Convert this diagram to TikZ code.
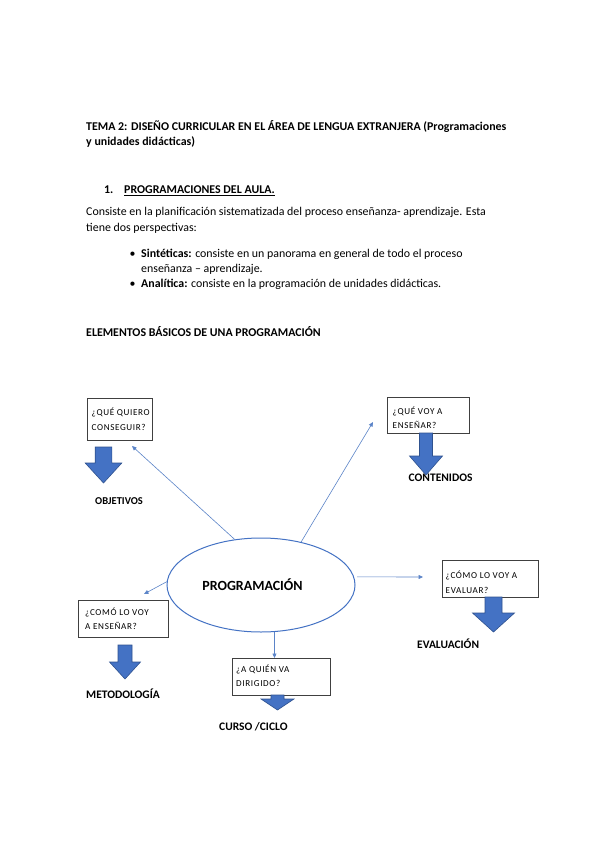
\documentclass[tikz,border=0pt]{standalone}
\usepackage{fontspec}
\setmainfont{Carlito}
\newfontfamily\boxfont[LetterSpace=7]{Carlito}
\usetikzlibrary{arrows.meta,shapes.geometric}
\definecolor{accblue}{HTML}{4472C4}
\definecolor{accdark}{HTML}{2F528F}
\definecolor{connblue}{HTML}{5B84C8}
\begin{document}
\begin{tikzpicture}[x=1pt,y=-1pt,
  txt/.style={anchor=base west, inner sep=0pt, font=\fontsize{11.9}{14}\selectfont},
  btxt/.style={txt, font=\fontsize{11.9}{14}\selectfont\bfseries},
  lbl/.style={anchor=base west, inner sep=0pt, font=\fontsize{11.5}{13}\selectfont\bfseries},
  qbox/.style={draw=black!75, line width=0.8pt, fill=white, anchor=north west, inner sep=0pt},
  qtxt/.style={anchor=base west, inner sep=0pt, align=left, font=\fontsize{9.1}{14.5}\boxfont},
  barrow/.style={fill=accblue, draw=accdark, line width=0.6pt},
  conn/.style={draw=connblue, line width=0.6pt, -{Triangle[length=4.5pt,width=4pt]}},
  pics/blockdown/.style args={#1/#2/#3/#4}{code={
    \draw[barrow] (-#1,0) -- (#1,0) -- (#1,#3) -- (#2,#3) -- (0,#4) -- (-#2,#3) -- (-#1,#3) -- cycle;}}
]
\useasboundingbox (0,0) rectangle (599,848);
\fill[white] (0,0) rectangle (599,848);

% header text
\node[btxt] (title1) at (86,130.3) {TEMA 2: DISEÑO CURRICULAR EN EL ÁREA DE LENGUA EXTRANJERA (Programaciones};
\node[btxt] (title2) at (86,145.8) {y unidades didácticas)};
\node[btxt] (h1num) at (104,193.3) {1.};
\node[btxt] (h1) at (124,193.3) {\underline{PROGRAMACIONES DEL AULA.}};
\node[txt] (p1) at (86,215) {Consiste en la planificación sistematizada del proceso enseñanza- aprendizaje. Esta};
\node[txt] (p2) at (86,231) {tiene dos perspectivas:};
\node[txt] (bul1) at (129.5,257.3) {•};
\node[txt] (l1) at (141,257.3) {\textbf{Sintéticas:} consiste en un panorama en general de todo el proceso};
\node[txt] (l2) at (141,272) {enseñanza – aprendizaje.};
\node[txt] (bul2) at (129.5,287.5) {•};
\node[txt] (l3) at (141,287.5) {\textbf{Analítica:} consiste en la programación de unidades didácticas.};
\node[btxt] (h2) at (86,336.7) {ELEMENTOS BÁSICOS DE UNA PROGRAMACIÓN};

% central ellipse
\node[ellipse, draw=accblue, line width=1pt, fill=white, minimum width=188pt, minimum height=94pt, inner sep=0pt] (ell) at (261,585) {};
\node[inner sep=0pt, font=\fontsize{14}{16}\selectfont\bfseries] (prog) at (252.5,585) {PROGRAMACIÓN};

% boxes (text anchored at the baseline of its last line)
\node[qbox, minimum width=65pt, minimum height=42pt] (b1) at (87,398) {};
\node[qtxt] (q1) at (91.5,430) {¿QUÉ QUIERO\\CONSEGUIR?};
\node[qbox, minimum width=82pt, minimum height=36pt] (b2) at (387,397) {};
\node[qtxt] (q2) at (392.5,428.5) {¿QUÉ VOY A\\ENSEÑAR?};
\node[qbox, minimum width=90pt, minimum height=37pt] (b3) at (78,600) {};
\node[qtxt] (q3) at (85,629.5) {¿COMÓ LO VOY\\A ENSEÑAR?};
\node[qbox, minimum width=98pt, minimum height=37pt] (b4) at (232,658) {};
\node[qtxt] (q4) at (236,686.7) {¿A QUIÉN VA\\DIRIGIDO?};
\node[qbox, minimum width=96pt, minimum height=37pt] (b5) at (442,560) {};
\node[qtxt] (q5) at (445.5,593.3) {¿CÓMO LO VOY A\\EVALUAR?};

% block arrows
\pic (a1) at (103.5,447) {blockdown=8.3/18.3/16/36};
\pic (a2) at (426,433) {blockdown=6.5/16.5/23/42};
\pic (a3) at (125,645) {blockdown=7/15.5/17/34};
\pic (a4) at (277.5,695) {blockdown=6.5/16.5/4/15};
\pic (a5) at (493.5,597) {blockdown=8.5/21/16/35};

% labels
\node[lbl, font=\fontsize{10.5}{12}\selectfont\bfseries] (o1) at (95,504) {OBJETIVOS};
\node[lbl] (o2) at (408.5,481) {CONTENIDOS};
\node[lbl] (o3) at (86,698.3) {METODOLOGÍA};
\node[lbl] (o4) at (219,730) {CURSO /CICLO};
\node[lbl] (o5) at (417,648.3) {EVALUACIÓN};

% connectors
\coordinate (t1) at (132,446);
\coordinate (t2) at (373,422);
\coordinate (t3) at (144,594);
\coordinate (t5) at (423,577);
\draw[conn] (ell.120) -- (t1);
\draw[conn] (ell.47) -- (t2);
\draw[conn] (ell.178) -- (t3);
\draw[conn] (ell.-74) -- (ell.-74 |- b4.north);
\draw[conn, shorten <=3pt] (ell.5) -- (t5);
\end{tikzpicture}
\end{document}
